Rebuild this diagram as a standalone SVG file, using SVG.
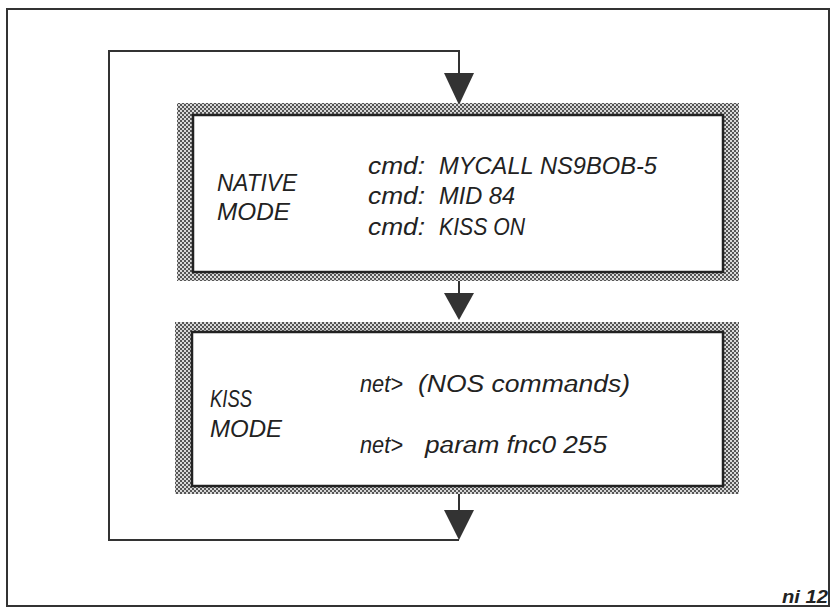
<svg xmlns="http://www.w3.org/2000/svg" width="833" height="608" viewBox="0 0 833 608">
<defs>
<pattern id="hatch" width="4" height="4" patternUnits="userSpaceOnUse">
<rect width="4" height="4" fill="#d8d8d8"/>
<rect x="0" y="0" width="2" height="2" fill="#555"/>
<rect x="2" y="2" width="2" height="2" fill="#555"/>
</pattern>
<marker id="arr" viewBox="0 0 30 32" refX="15" refY="32" markerWidth="30" markerHeight="32" markerUnits="userSpaceOnUse" orient="auto-start-reverse">
<path d="M0,0 L30,0 L15,32 Z" fill="#333"/>
</marker>
</defs>
<style>
.frame{fill:none;stroke:#333;stroke-width:2}
.line{fill:none;stroke:#333;stroke-width:2}
.inner{fill:#fff;stroke:#222;stroke-width:2.5}
.t{font-family:"Liberation Sans",Arial,sans-serif;font-style:italic;font-size:23px;fill:#222}
.tag{font-family:"Liberation Sans",Arial,sans-serif;font-style:italic;font-weight:bold;font-size:19px;fill:#222}
</style>
<rect class="frame" x="7" y="9" width="822" height="597"/>
<g id="connectors">
<path class="line" d="M459,78 L459,51 L109,51 L109,540 L459,540" />
<path d="M444,73 L474,73 L459,105 Z" fill="#333"/>
<line class="line" x1="459" y1="272" x2="459" y2="295"/>
<path d="M444,293 L474,293 L459,320 Z" fill="#333"/>
<line class="line" x1="459" y1="486" x2="459" y2="512"/>
<path d="M444,510 L474,510 L459,540 Z" fill="#333"/>
</g>
<g id="native-mode">
<rect x="177" y="103" width="562" height="178" fill="url(#hatch)"/>
<rect class="inner" x="193" y="115" width="530" height="157"/>
<text class="t" x="217" y="191" textLength="80" lengthAdjust="spacingAndGlyphs">NATIVE</text>
<text class="t" x="217" y="220" textLength="73" lengthAdjust="spacingAndGlyphs">MODE</text>
<text class="t" x="368" y="174" textLength="57" lengthAdjust="spacingAndGlyphs">cmd:</text>
<text class="t" x="439" y="174" textLength="218" lengthAdjust="spacingAndGlyphs">MYCALL NS9BOB-5</text>
<text class="t" x="368" y="204" textLength="57" lengthAdjust="spacingAndGlyphs">cmd:</text>
<text class="t" x="439" y="204" textLength="76" lengthAdjust="spacingAndGlyphs">MID 84</text>
<text class="t" x="368" y="235" textLength="57" lengthAdjust="spacingAndGlyphs">cmd:</text>
<text class="t" x="439" y="235" textLength="86" lengthAdjust="spacingAndGlyphs">KISS ON</text>
</g>
<g id="kiss-mode">
<rect x="175" y="322" width="564" height="172" fill="url(#hatch)"/>
<rect class="inner" x="192" y="332" width="531" height="154"/>
<text class="t" x="210" y="407" textLength="42" lengthAdjust="spacingAndGlyphs">KISS</text>
<text class="t" x="210" y="437" textLength="72" lengthAdjust="spacingAndGlyphs">MODE</text>
<text class="t" x="360" y="392" textLength="43" lengthAdjust="spacingAndGlyphs">net&gt;</text>
<text class="t" x="418" y="392" textLength="212" lengthAdjust="spacingAndGlyphs">(NOS commands)</text>
<text class="t" x="360" y="453" textLength="43" lengthAdjust="spacingAndGlyphs">net&gt;</text>
<text class="t" x="425" y="453" textLength="182" lengthAdjust="spacingAndGlyphs">param fnc0 255</text>
</g>
<text class="tag" x="782" y="603" textLength="46" lengthAdjust="spacingAndGlyphs">ni 12</text>
</svg>
